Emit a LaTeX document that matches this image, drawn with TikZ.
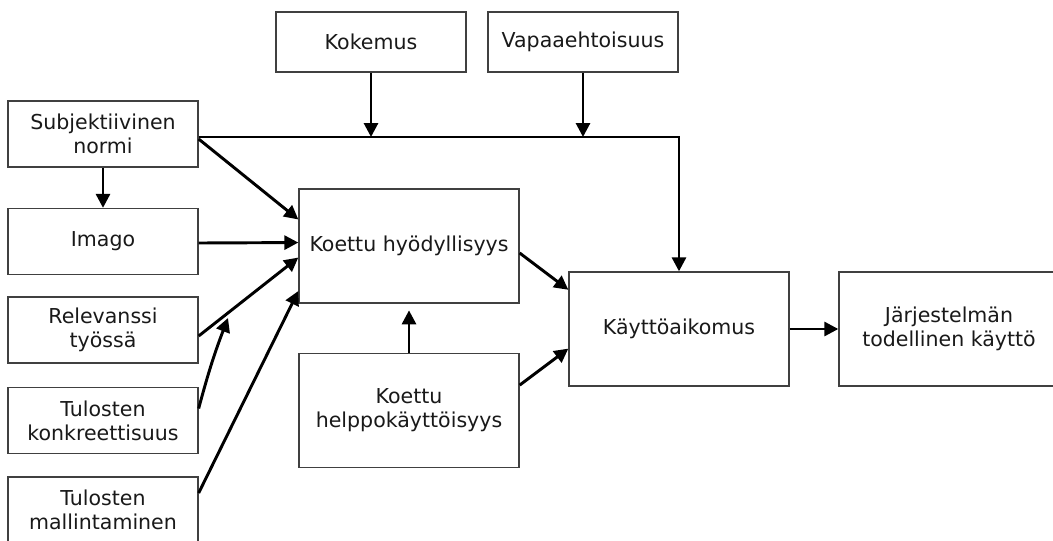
\documentclass[tikz,border=0pt]{standalone}
\usepackage{fontspec}
\setmainfont{DejaVu Sans}
\usetikzlibrary{arrows.meta,calc}

\begin{document}
\begin{tikzpicture}[x=0.75pt,y=-0.75pt,
  box/.style={draw=black!75,line width=1pt,fill=white,align=center,
    inner sep=0pt,font=\fontsize{15.4pt}{18pt}\selectfont,text=black!90},
  smallbox/.style={box,minimum width=142.5pt,minimum height=49.5pt},
  bigbox/.style={box,minimum width=165pt,minimum height=85.5pt},
  arr/.style={line width=2.2pt,-{Triangle[length=10.5pt,width=10.5pt]}}]
\useasboundingbox (0,0) rectangle (1053,540);
\clip (0,0) rectangle (1053,540);

% antecedents on the left
\node[smallbox] (subj)  at (103,134)   {Subjektiivinen\\normi};
\node[smallbox] (imago) at (103,241.5) {Imago};
\node[smallbox] (relev) at (103,330)   {Relevanssi\\työssä};
\node[smallbox] (konkr) at (103,420.5) {Tulosten\\konkreettisuus};
\node[smallbox] (mall)  at (103,510)   {Tulosten\\mallintaminen};

% moderators at the top
\node[smallbox,minimum height=45pt] (kok) at (371,42) {Kokemus};
\node[smallbox,minimum height=45pt] (vap) at (583,42) {Vapaaehtoisuus};

% core constructs
\node[bigbox] (hyod)   at (409,246)   {Koettu hyödyllisyys};
\node[bigbox] (helppo) at (409,410.5) {Koettu\\helppokäyttöisyys};
\node[bigbox] (kaytto) at (679,329)   {Käyttöaikomus};
\node[bigbox] (jarj)   at (949,329)   {Järjestelmän\\todellinen käyttö};

% subjective norm straight to intention
\coordinate (busstart) at ($(subj.east)+(0,3)$);
\draw[arr] (busstart) -| (kaytto.north);
\coordinate (kokhit) at (kok.south |- busstart);
\coordinate (vaphit) at (vap.south |- busstart);
\draw[arr] (kok.south) -- (kokhit);
\draw[arr] (vap.south) -- (vaphit);

% subjective norm to image
\draw[arr] (subj.south) -- (imago.north);

% inputs to perceived usefulness
\draw[arr] ($(subj.east)+(0,5)$) -- ($(hyod.north west)!0.27!(hyod.south west)$);
\draw[arr] ($(imago.east)+(0,1.5)$) -- ($(hyod.north west)!0.47!(hyod.south west)$);
\draw[arr] ($(relev.east)+(0,6)$) -- ($(hyod.north west)!0.6!(hyod.south west)$);
\coordinate (relevmid) at (228,318);
\draw[arr] ($(konkr.east)+(0,-12)$) to[bend left=3] (relevmid);
\draw[arr] ($(mall.east)+(0,-17)$) -- ($(hyod.north west)!0.89!(hyod.south west)$);

% ease of use to usefulness
\draw[arr,shorten >=5pt] (helppo.north) -- (hyod.south);

% to intention and use
\draw[arr] ($(hyod.east)+(0,7)$) -- ($(kaytto.north west)!0.16!(kaytto.south west)$);
\draw[arr] ($(helppo.north east)!0.28!(helppo.south east)$) -- ($(kaytto.north west)!0.67!(kaytto.south west)$);
\draw[arr] (kaytto.east) -- (jarj.west);
\end{tikzpicture}
\end{document}
